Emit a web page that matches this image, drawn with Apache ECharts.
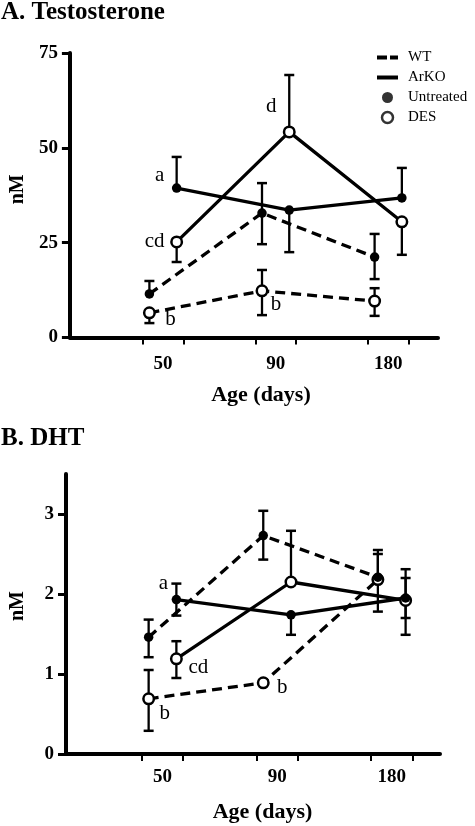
<!DOCTYPE html>
<html><head><meta charset="utf-8">
<script src="https://cdn.jsdelivr.net/npm/echarts@6/dist/echarts.min.js"></script>
<style>html,body{margin:0;padding:0;background:#fff}#c{width:475px;height:826px}</style>
</head><body><div id="c"></div>
<script>
// ---------- data ----------
const ages = ['50', '90', '180'];

// Panel A: Testosterone (nM)
const aWtUntreated   = [11.5, 32.8, 21.2];
const aWtDes         = [6.5, 12.3, 9.6];
const aArkoUntreated = [39.4, 33.6, 36.8];
const aArkoDes       = [25.2, 54.2, 30.5];
// error bar ends (null = not drawn)
const aWtUntreatedHi   = [14.9, 40.7, 27.3];
const aWtUntreatedLo   = [null, 24.6, 15.4];
const aWtDesHi         = [null, 17.8, 13.0];
const aWtDesLo         = [3.8, 5.9, 5.7];
const aArkoUntreatedHi = [47.6, null, 44.7];
const aArkoUntreatedLo = [null, 22.5, null];
const aArkoDesHi       = [null, 69.2, null];
const aArkoDesLo       = [19.9, null, 21.8];
const aWtDesLetters         = ['b', 'b', ''];
const aArkoUntreatedLetters = ['a', '', ''];
const aArkoDesLetters       = ['cd', 'd', ''];
const aYTicks = [0, 25, 50, 75];

// Panel B: DHT (nM)
const bWtUntreated   = [1.46, 2.73, 2.21];
const bWtDes         = [0.69, 0.89, 2.18];
const bArkoUntreated = [1.93, 1.74, 1.95];
const bArkoDes       = [1.19, 2.15, 1.92];
const bWtUntreatedHi   = [1.68, 3.04, 2.55];
const bWtUntreatedLo   = [1.21, 2.43, 1.78];
const bWtDesHi         = [1.05, null, 2.50];
const bWtDesLo         = [0.29, null, null];
const bArkoUntreatedHi = [2.13, null, 2.20];
const bArkoUntreatedLo = [1.73, 1.49, 1.70];
const bArkoDesHi       = [1.41, 2.79, 2.31];
const bArkoDesLo       = [0.95, null, 1.49];
const bWtDesLetters         = ['b', 'b', ''];
const bArkoUntreatedLetters = ['a', '', ''];
const bArkoDesLetters       = ['cd', '', ''];
const bYTicks = [0, 1, 2, 3];

// ---------- layout / style ----------
const SERIF = 'Liberation Serif';
const WT_OFF = -0.121, KO_OFF = 0.121, TICK_OFF = 0.18;
const LAB = {
  aWtDes: [[21, 7], [14, 14], null],
  aArkoUntreated: [[-17, -13], null, null],
  aArkoDes: [[-22, 0], [-18, -25], null],
  bWtDes: [[16, 15], [19, 5], null],
  bArkoUntreated: [[-13, -16], null, null],
  bArkoDes: [[22, 9], null, null]
};
const tickVals = ages.flatMap((_, i) => [i + 1 - TICK_OFF, i + 1 + TICK_OFF]);
const groupVals = ages.map((_, i) => i + 1);

function lineSeries(name, vals, off, dashed, open, letters, offs, xi, yi) {
  return {
    name, type: 'line', xAxisIndex: xi, yAxisIndex: yi, z: dashed ? 3 : 4,
    data: vals.map((v, i) => {
      const d = { value: [i + 1 + off, v] };
      if (letters && letters[i]) d.label = { show: true, formatter: letters[i], position: 'inside', offset: offs[i] };
      return d;
    }),
    symbol: 'circle', symbolSize: open ? 10.5 : 9.5, showAllSymbol: true,
    lineStyle: { color: '#000', width: 3.3, type: dashed ? [10, 6] : 'solid' },
    itemStyle: open ? { color: '#fff', borderColor: '#000', borderWidth: 2.5 } : { color: '#000', borderWidth: 0 },
    label: { fontFamily: SERIF, fontSize: 21, color: '#000' },
    emphasis: { disabled: true }, silent: true
  };
}

function errRender(params, api) {
  const x = api.value(0), v = api.value(1), hi = api.value(2), lo = api.value(3);
  const pv = api.coord([x, v]);
  const children = [];
  const cw = 5;
  [hi, lo].forEach(e => {
    if (isNaN(e) || e === v) return;
    const pe = api.coord([x, e]);
    children.push({ type: 'line', shape: { x1: pv[0], y1: pv[1], x2: pe[0], y2: pe[1] }, style: { stroke: '#000', lineWidth: 2.3 } });
    children.push({ type: 'line', shape: { x1: pe[0] - cw, y1: pe[1], x2: pe[0] + cw, y2: pe[1] }, style: { stroke: '#000', lineWidth: 2.5 } });
  });
  return { type: 'group', children };
}

function errSeries(vals, hi, lo, off, xi, yi) {
  return {
    type: 'custom', xAxisIndex: xi, yAxisIndex: yi, z: 2, silent: true, clip: false,
    renderItem: errRender, encode: { x: 0, y: 1 },
    data: vals.map((v, i) => [i + 1 + off, v, hi[i] == null ? v : hi[i], lo[i] == null ? v : lo[i]])
  };
}

function xAxes(gi, min, max, labelMargin, nameGap, namePad) {
  return [
    {
      type: 'value', gridIndex: gi, min, max,
      axisLine: { show: true, onZero: false, lineStyle: { color: '#000', width: 4 } },
      axisTick: { show: true, inside: false, length: 6, lineStyle: { width: 2, color: '#000' }, customValues: tickVals },
      axisLabel: { customValues: groupVals, formatter: v => ages[Math.round(v) - 1], margin: labelMargin,
        fontFamily: SERIF, fontWeight: 'bold', fontSize: 19, color: '#000' },
      splitLine: { show: false },
      name: 'Age (days)', nameLocation: 'middle', nameGap,
      nameTextStyle: { fontFamily: SERIF, fontWeight: 'bold', fontSize: 22, color: '#000', padding: [0, 0, 0, namePad] }
    },
    {
      type: 'value', gridIndex: gi, min, max,
      axisLine: { show: false },
      axisTick: { show: true, inside: true, length: 7, lineStyle: { width: 2, color: '#000' }, customValues: tickVals },
      axisLabel: { show: false }, splitLine: { show: false }
    }
  ];
}

function yAxis(gi, max, ticks, nameGap, namePad) {
  return {
    type: 'value', gridIndex: gi, min: 0, max,
    axisLine: { show: true, onZero: false, lineStyle: { color: '#000', width: 4 } },
    axisTick: { show: true, inside: false, length: 8, lineStyle: { width: 3, color: '#000' }, customValues: ticks },
    axisLabel: { customValues: ticks, margin: 12, fontFamily: SERIF, fontWeight: 'bold', fontSize: 19, color: '#000' },
    splitLine: { show: false },
    name: 'nM', nameLocation: 'middle', nameRotate: 90, nameGap,
    nameTextStyle: { fontFamily: SERIF, fontWeight: 'bold', fontSize: 20, color: '#000', padding: [0, 0, 0, namePad] }
  };
}

const titleStyle = { fontFamily: SERIF, fontWeight: 'bold', fontSize: 25, color: '#000' };

const option = {
  animation: false,
  backgroundColor: '#fff',
  title: [
    { text: 'A. Testosterone', left: 1, top: 0, padding: 0, textStyle: titleStyle },
    { text: 'B. DHT', left: 1, top: 426, padding: 0, textStyle: titleStyle }
  ],
  legend: {
    orient: 'vertical', left: 377, top: 50, padding: 0, itemWidth: 21, itemHeight: 11, itemGap: 5,
    selectedMode: false, symbolKeepAspect: true,
    textStyle: { fontFamily: SERIF, fontSize: 15, color: '#000', lineHeight: 15, padding: [0, 0, 0, 5] },
    data: [
      { name: 'WT', icon: 'path://M0 0H10V4H0Z M13 0H21V4H13Z', itemStyle: { color: '#000', borderWidth: 0 } },
      { name: 'ArKO', icon: 'path://M0 0H21V4H0Z', itemStyle: { color: '#000', borderWidth: 0 } },
      { name: 'Untreated', icon: 'circle', itemStyle: { color: '#000', borderWidth: 0 } },
      { name: 'DES', icon: 'circle', itemStyle: { color: '#fff', borderColor: '#000', borderWidth: 2.5 } }
    ]
  },
  grid: [
    { left: 61, top: 53, width: 377, height: 284.5 },
    { left: 64, top: 474, width: 376, height: 280 }
  ],
  xAxis: [
    ...xAxes(0, 0.173, 3.442, 17, 47, 14),
    ...xAxes(1, 0.158, 3.421, 14, 47, 19)
  ],
  yAxis: [
    yAxis(0, 75, aYTicks, 34, 12),
    yAxis(1, 3.5, bYTicks, 38, 16)
  ],
  series: [
    // legend-only entries
    { name: 'WT', type: 'line', data: [], symbol: 'none', xAxisIndex: 0, yAxisIndex: 0,
      lineStyle: { color: '#000', width: 4, type: [10, 4] }, itemStyle: { color: '#000' } },
    { name: 'ArKO', type: 'line', data: [], symbol: 'none', xAxisIndex: 0, yAxisIndex: 0,
      lineStyle: { color: '#000', width: 4 }, itemStyle: { color: '#000' } },
    { name: 'Untreated', type: 'scatter', data: [], xAxisIndex: 0, yAxisIndex: 0, itemStyle: { color: '#000' } },
    { name: 'DES', type: 'scatter', data: [], xAxisIndex: 0, yAxisIndex: 0,
      itemStyle: { color: '#fff', borderColor: '#000', borderWidth: 2.5 } },

    // Panel A
    errSeries(aWtUntreated, aWtUntreatedHi, aWtUntreatedLo, WT_OFF, 0, 0),
    errSeries(aWtDes, aWtDesHi, aWtDesLo, WT_OFF, 0, 0),
    errSeries(aArkoUntreated, aArkoUntreatedHi, aArkoUntreatedLo, KO_OFF, 0, 0),
    errSeries(aArkoDes, aArkoDesHi, aArkoDesLo, KO_OFF, 0, 0),
    lineSeries('A WT Untreated', aWtUntreated, WT_OFF, true, false, null, null, 0, 0),
    lineSeries('A WT DES', aWtDes, WT_OFF, true, true, aWtDesLetters, LAB.aWtDes, 0, 0),
    lineSeries('A ArKO Untreated', aArkoUntreated, KO_OFF, false, false, aArkoUntreatedLetters, LAB.aArkoUntreated, 0, 0),
    lineSeries('A ArKO DES', aArkoDes, KO_OFF, false, true, aArkoDesLetters, LAB.aArkoDes, 0, 0),

    // Panel B
    errSeries(bWtUntreated, bWtUntreatedHi, bWtUntreatedLo, WT_OFF, 2, 1),
    errSeries(bWtDes, bWtDesHi, bWtDesLo, WT_OFF, 2, 1),
    errSeries(bArkoUntreated, bArkoUntreatedHi, bArkoUntreatedLo, KO_OFF, 2, 1),
    errSeries(bArkoDes, bArkoDesHi, bArkoDesLo, KO_OFF, 2, 1),
    lineSeries('B WT DES', bWtDes, WT_OFF, true, true, bWtDesLetters, LAB.bWtDes, 2, 1),
    lineSeries('B WT Untreated', bWtUntreated, WT_OFF, true, false, null, null, 2, 1),
    lineSeries('B ArKO DES', bArkoDes, KO_OFF, false, true, bArkoDesLetters, LAB.bArkoDes, 2, 1),
    lineSeries('B ArKO Untreated', bArkoUntreated, KO_OFF, false, false, bArkoUntreatedLetters, LAB.bArkoUntreated, 2, 1)
  ]
};

const chart = echarts.init(document.getElementById('c'), null, { renderer: 'canvas' });
chart.setOption(option);
</script>
</body></html>
